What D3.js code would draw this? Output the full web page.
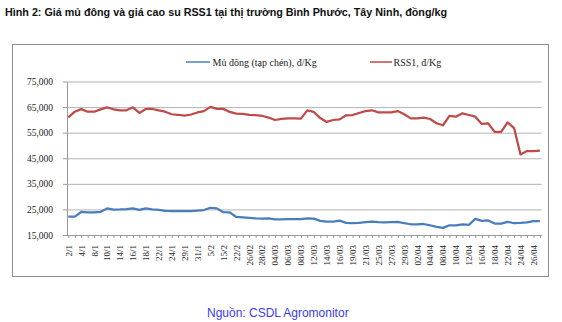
<!DOCTYPE html>
<html><head><meta charset="utf-8">
<script src="https://cdn.jsdelivr.net/npm/d3@7"></script>
<style>
html,body{margin:0;padding:0;background:#fff;}
svg{display:block;}
</style></head>
<body>
<svg id="chart" width="562" height="322"></svg>
<script>
const title = "Hình 2: Giá mủ đông và giá cao su RSS1 tại thị trường Bình Phước, Tây Ninh, đồng/kg";
const source = "Nguồn: CSDL Agromonitor";
const seriesNames = ["Mủ đông (tạp chén), đ/Kg", "RSS1, đ/Kg"];
const seriesColors = ["#4a7ebb", "#be4b48"];

const categories = [
 "2/1","3/1","4/1","7/1","8/1","9/1","10/1","11/1","14/1","15/1",
 "16/1","17/1","18/1","19/1","22/1","23/1","24/1","25/1","29/1","30/1",
 "31/1","1/2","5/2","6/2","15/2","21/2","22/2","25/02","26/02","27/02",
 "28/02","01/03","04/03","05/03","06/03","07/03","08/03","11/03","12/03","13/03",
 "14/03","15/03","16/03","18/03","19/03","20/03","21/03","22/03","25/03","26/03",
 "27/03","28/03","29/03","01/04","02/04","03/04","04/04","05/04","08/04","09/04",
 "10/04","11/04","12/04","15/04","16/04","17/04","18/04","19/04","22/04","23/04",
 "24/04","25/04","26/04","27/04"
];

const tickLabels = [
 "2/1","4/1","8/1","10/1","14/1","16/1","18/1","22/1","24/1","29/1","31/1","5/2","15/2",
 "22/2","26/02","28/02","04/03","06/03","08/03","12/03","14/03","16/03","19/03","21/03",
 "25/03","27/03","29/03","02/04","04/04","08/04","10/04","12/04","16/04","18/04","22/04",
 "24/04","26/04"
];

const muDong = [
 22150,22150,24000,23850,23850,24050,25400,24950,25000,25150,
 25400,24800,25400,25050,24800,24450,24350,24350,24350,24350,
 24550,24750,25650,25400,23900,23850,22050,21900,21700,21500,
 21400,21500,21150,21150,21250,21250,21250,21500,21400,20500,
 20200,20250,20600,19750,19600,19700,20050,20200,20000,19950,
 20050,20150,19600,19200,19200,19300,18800,18200,17800,18800,
 18800,19150,18950,21300,20500,20700,19450,19450,20150,19600,
 19700,19950,20450,20450
];

const rss1 = [
 61000,63200,64200,63200,63200,64100,64900,64140,63750,63750,
 64900,62700,64260,64260,63700,63200,62200,62000,61650,62100,
 62900,63400,65100,64300,64300,63100,62450,62300,62000,61900,
 61600,60900,59950,60350,60600,60600,60500,63700,63100,60700,
 59200,59950,60200,61800,61900,62700,63400,63750,62950,62950,
 62950,63450,62200,60600,60600,60850,60350,58700,57900,61600,
 61250,62550,61900,61250,58400,58600,55300,55300,59000,56800,
 46500,47800,47800,48000
];

const yTicks = [15000, 25000, 35000, 45000, 55000, 65000, 75000];

const svg = d3.select("#chart");

// outer frame
svg.append("rect").attr("x", 12.5).attr("y", 44.5).attr("width", 536).attr("height", 232)
  .attr("fill", "#fff").attr("stroke", "#8c8c8c").attr("stroke-width", 1);

// title
svg.append("text").attr("x", 5).attr("y", 16)
  .attr("font-family", "Liberation Sans, Arial, sans-serif")
  .attr("font-weight", "bold").attr("font-size", 11.5)
  .attr("fill", "#111")
  .attr("textLength", 442).attr("lengthAdjust", "spacingAndGlyphs")
  .text(title);

const pL = 67, pR = 541.7, pT = 81.5, pB = 235;
const x = d3.scalePoint().domain(categories).range([68.3, 539.9]);
const y = d3.scaleLinear().domain([15000, 75000]).range([pB, pT]);

// gridlines
const grid = svg.append("g").attr("transform", `translate(${pL},0)`)
  .call(d3.axisRight(y).tickValues(yTicks.slice(1)).tickSize(pR - pL).tickFormat(""));
grid.select(".domain").remove();
grid.selectAll(".tick line").attr("stroke", "#b3b3b3").attr("stroke-width", 1);

// y axis
const yAxis = svg.append("g").attr("transform", `translate(${pL},0)`)
  .call(d3.axisLeft(y).tickValues(yTicks).tickSize(4).tickSizeOuter(0).tickPadding(10)
    .tickFormat(d3.format(",")));
yAxis.select(".domain").attr("stroke", "#999");
yAxis.selectAll(".tick line").attr("stroke", "#999");
yAxis.selectAll(".tick text").attr("font-family", "Liberation Serif, Times New Roman, serif")
  .attr("font-size", 9.5).attr("fill", "#222");

// x axis
const xAxis = svg.append("g").attr("transform", `translate(0,${pB})`)
  .call(d3.axisBottom(x).tickSize(3).tickSizeOuter(0)
    .tickFormat(d => tickLabels.includes(d) ? d : ""));
xAxis.select(".domain").attr("stroke", "#999").attr("d", `M${pL},0.5H${pR}`);
xAxis.selectAll(".tick line").attr("stroke", "#999");
xAxis.selectAll(".tick text")
  .attr("font-family", "Liberation Serif, Times New Roman, serif")
  .attr("font-size", 9).attr("fill", "#222")
  .attr("transform", "rotate(-90)")
  .attr("text-anchor", "end")
  .attr("x", -10).attr("y", 0).attr("dy", "0.32em");

// lines
const line = d3.line().x((d, i) => x(categories[i])).y(d => y(d));
[muDong, rss1].forEach((s, k) => {
  svg.append("path").datum(s).attr("d", line)
    .attr("fill", "none").attr("stroke", seriesColors[k])
    .attr("stroke-width", 2.25).attr("stroke-linejoin", "round");
});

// legend
const legend = [{x1: 186, x2: 210, tx: 212.5}, {x1: 370, x2: 392, tx: 393.5}];
legend.forEach((l, k) => {
  svg.append("line").attr("x1", l.x1).attr("x2", l.x2).attr("y1", 62).attr("y2", 62)
    .attr("stroke", seriesColors[k]).attr("stroke-width", 1.5);
  svg.append("text").attr("x", l.tx).attr("y", 65.5)
    .attr("font-family", "Liberation Serif, Times New Roman, serif")
    .attr("font-size", 10).attr("fill", "#222").text(seriesNames[k]);
});

// source
svg.append("text").attr("x", 207).attr("y", 316.5)
  .attr("font-family", "Liberation Sans, Arial, sans-serif")
  .attr("font-size", 12).attr("fill", "#3b3bf0").text(source);
</script>
</body></html>
